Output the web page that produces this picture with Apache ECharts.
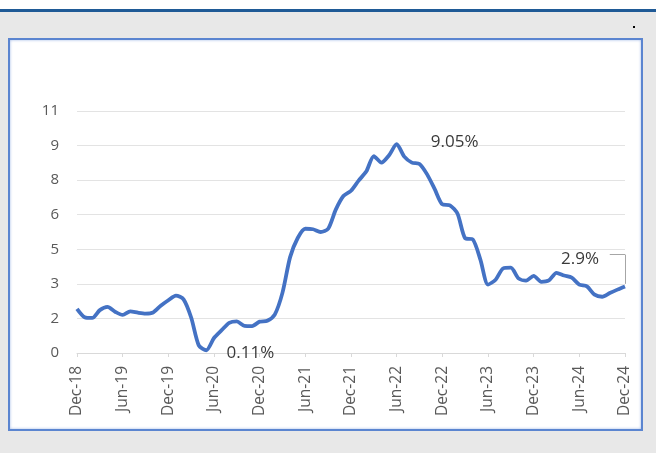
<!DOCTYPE html>
<html><head><meta charset="utf-8">
<script src="https://cdn.jsdelivr.net/npm/echarts@6/dist/echarts.min.js"></script>
<style>
html,body{margin:0;padding:0;width:656px;height:453px;overflow:hidden;background:#e8e8e8;}
#top{position:absolute;left:0;top:0;width:656px;height:9px;background:#fff;}
#bar{position:absolute;left:0;top:9px;width:656px;height:3px;background:#1f5a96;}
#box{position:absolute;left:8px;top:38px;width:631px;height:389px;background:#fff;border:2px solid #5b85d0;box-shadow:inset 0 0 3px #9fb8e6;}
#dot{position:absolute;left:633px;top:26px;width:2px;height:2px;background:#000;}
#chart{position:absolute;left:0;top:0;width:656px;height:453px;}
</style></head>
<body>
<div id="top"></div><div id="bar"></div><div id="box"></div><div id="dot"></div>
<div id="chart"></div>
<script>
const months = (function(){
  const m=['Jan','Feb','Mar','Apr','May','Jun','Jul','Aug','Sep','Oct','Nov','Dec'];
  const out=['Dec-18'];
  for(let y=19;y<=24;y++){for(const mm of m){out.push(mm+'-'+y);}}
  return out;
})();
const inflation = [
  1.91,
  1.55,1.52,1.86,2.00,1.79,1.65,1.81,1.75,1.71,1.76,2.05,2.29,
  2.49,2.33,1.54,0.33,0.12,0.65,0.99,1.31,1.37,1.18,1.17,1.36,
  1.40,1.68,2.62,4.16,4.99,5.39,5.37,5.25,5.39,6.22,6.81,7.04,
  7.48,7.87,8.54,8.26,8.58,9.06,8.52,8.26,8.20,7.75,7.11,6.45,
  6.41,6.04,4.98,4.93,4.05,2.97,3.18,3.67,3.70,3.24,3.14,3.35,
  3.09,3.15,3.48,3.36,3.27,2.97,2.89,2.53,2.44,2.60,2.75,2.89
];
const annotations = {17:'0.11%', 42:'9.05%', 72:'2.9%'};
const yTicks = {min:0, max:10.5, step:1.5};
// leader line for the last annotation, in data units (category index, value)
const leader = [[72, 3.0], [72, 4.27], [69.8, 4.27]];

const font = '"Open Sans", "Liberation Sans", sans-serif';
const data = inflation.map((v,i)=>{
  if(annotations[i]){
    return {value:v,
      label:{show:true, formatter:annotations[i], position:'inside',
        color:'#3a3a3a', fontSize:17, fontFamily:font}};
  }
  return v;
});
const offsets = {17:[44,3], 42:[58,-2], 72:[-45,-27]};

const chart = echarts.init(document.getElementById('chart'), null, {renderer:'canvas'});
chart.setOption({
  backgroundColor:'transparent',
  animation:false,
  grid:{left:77, right:31, top:111, bottom:100, containLabel:false},
  xAxis:{
    type:'category', data:months, boundaryGap:false,
    axisLine:{lineStyle:{color:'#d9d9d9'}},
    axisTick:{show:true, interval:5, length:4, lineStyle:{color:'#d9d9d9'}},
    axisLabel:{interval:5, rotate:90, color:'#595959', fontSize:15.5, fontFamily:font, margin:13},
    splitLine:{show:false}
  },
  yAxis:{
    type:'value', min:yTicks.min, max:yTicks.max, interval:yTicks.step,
    axisLine:{show:false}, axisTick:{show:false},
    axisLabel:{color:'#595959', fontSize:15, fontFamily:font, margin:18,
      formatter:v=>String(Math.round(v))},
    splitLine:{lineStyle:{color:'#e3e3e3', width:1}}
  },
  series:[{
    type:'line', data:data, smooth:0.25, showSymbol:true, showAllSymbol:true,
    symbol:'circle', symbolSize:0.01,
    itemStyle:{color:'#4472c4'},
    lineStyle:{color:'#4472c4', width:3.8},
    labelLayout:function(p){
      const o = offsets[p.dataIndex];
      if(!o) return {};
      return {dx:o[0], dy:o[1]};
    },
    markLine:{
      silent:true, symbol:['none','none'], animation:false,
      label:{show:false},
      lineStyle:{color:'#a6a6a6', width:1, type:'solid'},
      data:[
        [{coord:leader[0]}, {coord:leader[1]}],
        [{coord:leader[1]}, {coord:leader[2]}]
      ]
    }
  }]
});
</script>
</body></html>
